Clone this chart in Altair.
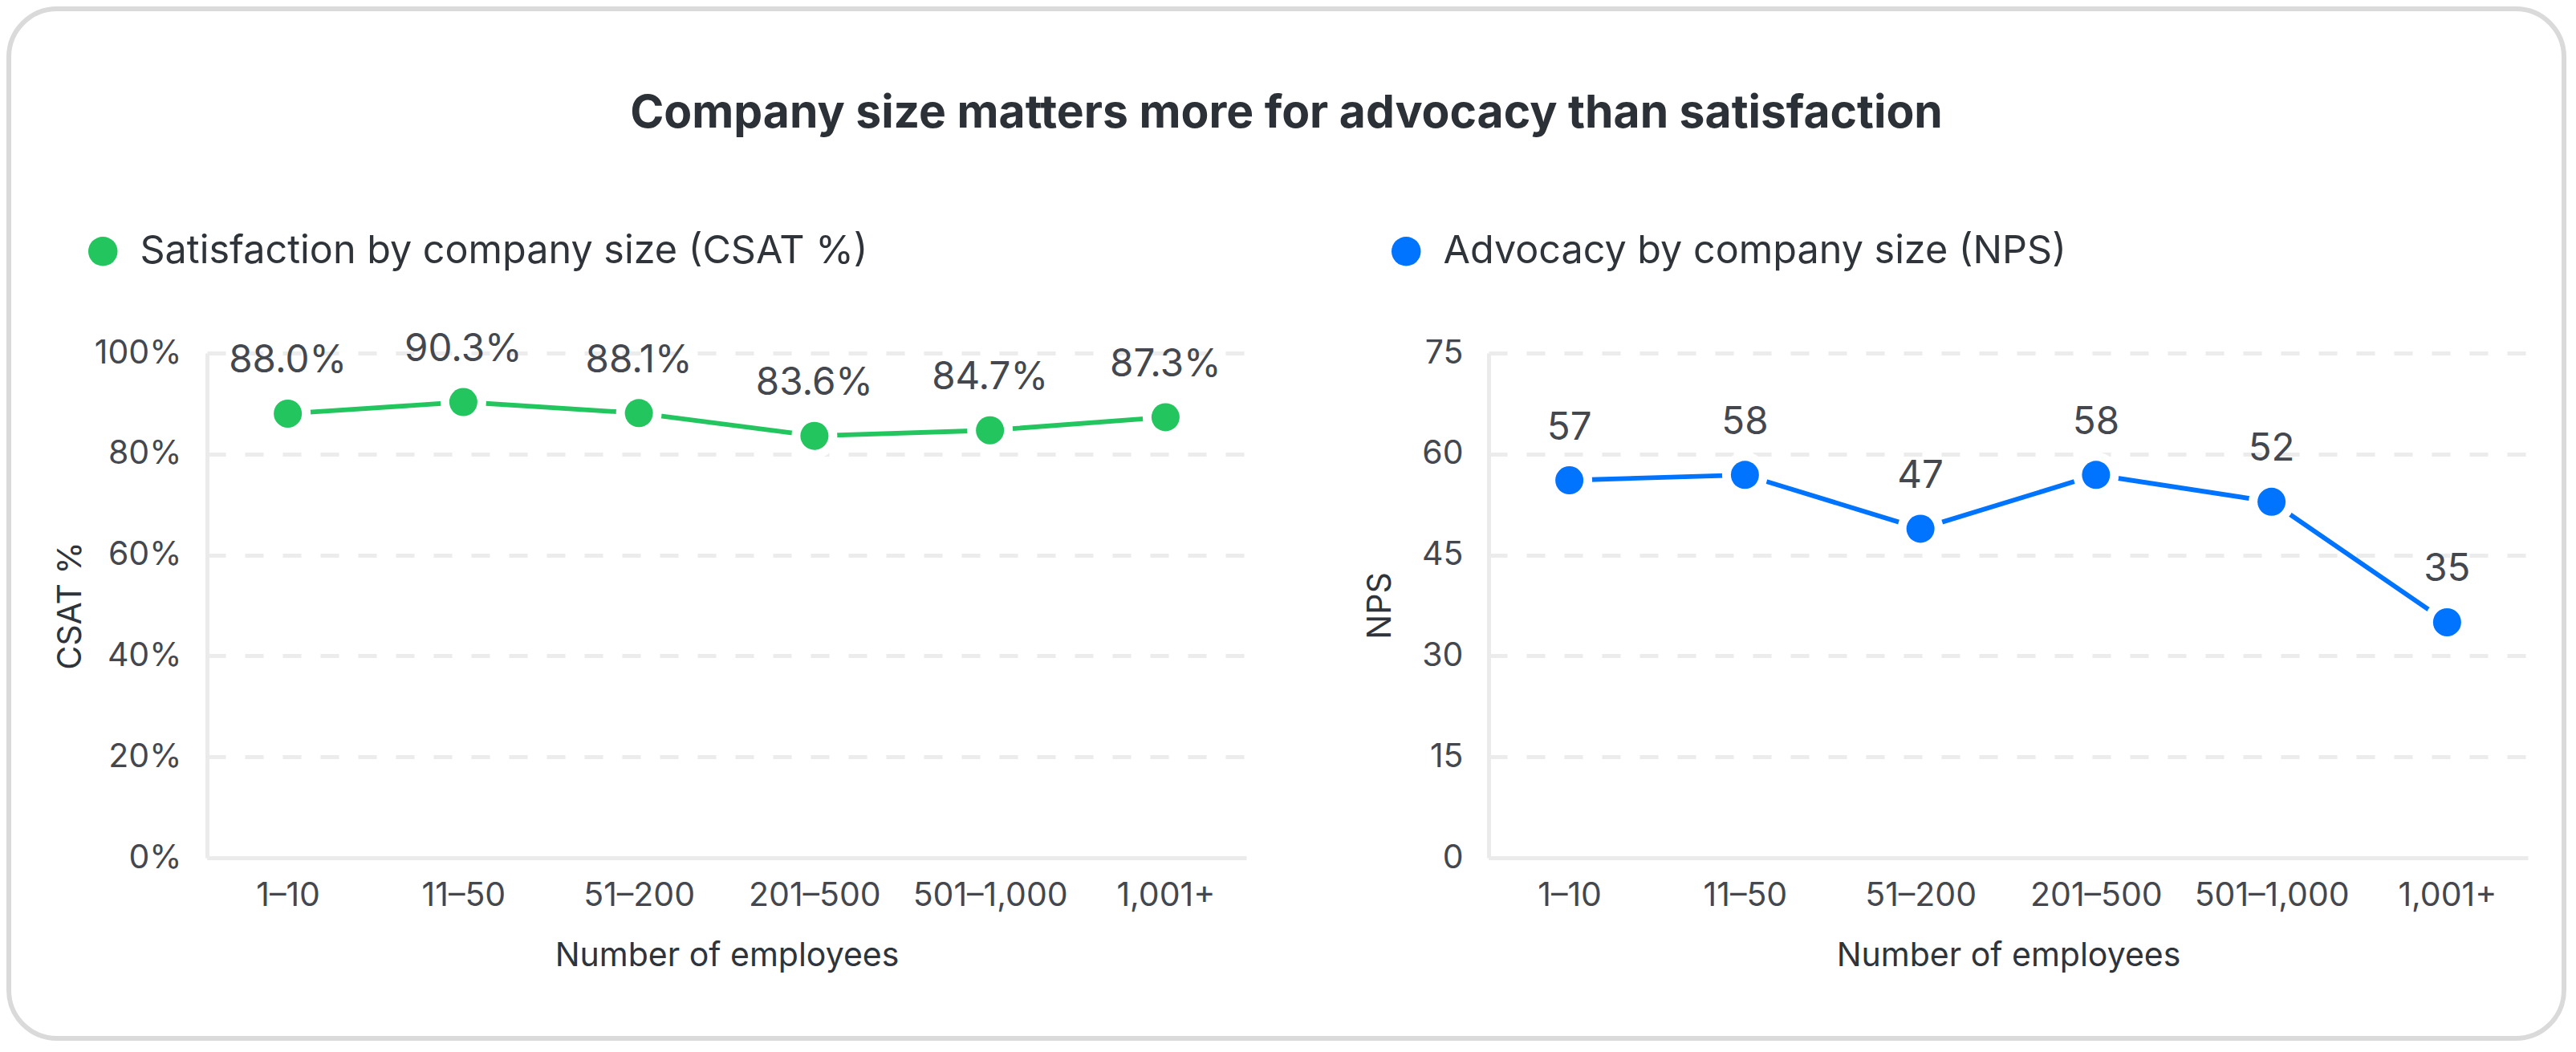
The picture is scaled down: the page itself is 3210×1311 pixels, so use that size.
import altair as alt
import pandas as pd

# ---- data ----
sizes = ["1–10", "11–50", "51–200", "201–500", "501–1,000", "1,001+"]
csat_values = [88.0, 90.3, 88.1, 83.6, 84.7, 87.3]
nps_values = [56.1, 56.9, 48.9, 56.9, 52.9, 35.0]      # plotted positions
nps_labels = ["57", "58", "47", "58", "52", "35"]       # printed labels
csat_ticks = [0, 20, 40, 60, 80, 100]
nps_ticks = [0, 15, 30, 45, 60, 75]

main_title = "Company size matters more for advocacy than satisfaction"
csat_series = "Satisfaction by company size (CSAT %)"
nps_series = "Advocacy by company size (NPS)"

GREEN = "#22c55e"
BLUE = "#0073ff"
TEXT = "#2e343a"
LABEL = "#44484e"
GRID = "#ececec"
FONT = "Inter"

csat_df = pd.DataFrame({
    "size": sizes,
    "value": csat_values,
    "label": [f"{v:.1f}%" for v in csat_values],
    "series": [csat_series] * len(sizes),
})
nps_df = pd.DataFrame({
    "size": sizes,
    "value": nps_values,
    "label": nps_labels,
    "series": [nps_series] * len(sizes),
})

PW, PH = 1295, 629


def panel(df, color, series, ticks, ylabel, label_expr, title_x, legend_x, card=False):
    x = alt.X(
        "size:N", sort=sizes,
        scale=alt.Scale(type="point", padding=0.46),
        axis=alt.Axis(
            title="Number of employees", labelAngle=0, ticks=False, tickSize=0,
            grid=False, domainColor="#ebebeb", domainWidth=5,
            labelFontSize=41, labelColor=LABEL, labelPadding=27, labelFont=FONT,
            labelLimit=600, labelOverlap=False,
            titleFontSize=41, titleColor=TEXT, titleFontWeight="normal",
            titleFont=FONT, titleY=134, titleBaseline="alphabetic",
        ),
    )
    y = alt.Y(
        "value:Q",
        scale=alt.Scale(domain=[ticks[0], ticks[-1]], nice=False, zero=True),
        axis=alt.Axis(
            title=ylabel, values=ticks, labelExpr=label_expr, ticks=False, tickSize=0,
            grid=True, gridColor=GRID, gridWidth=5, gridDash=[23, 24],
            domainColor="#ebebeb", domainWidth=5,
            labelFontSize=41, labelColor=LABEL, labelPadding=32, labelFont=FONT,
            titleFontSize=41, titleColor=TEXT, titleFontWeight="normal",
            titleFont=FONT, titleX=title_x, titleY=PH / 2, titleAngle=270,
            titleBaseline="middle", titleAlign="center",
        ),
    )
    base = alt.Chart(df).encode(x=x, y=y)
    line = base.mark_line(color=color, strokeWidth=5.8)
    # white ring around each dot opens a small gap in the line
    halo = base.mark_point(
        shape="circle", filled=True, fill="white", color="white",
        strokeWidth=0, size=3249, opacity=1, fillOpacity=1,
    )
    dots = base.mark_point(
        shape="circle", filled=True, size=1225, opacity=1, fillOpacity=1, strokeWidth=0,
    ).encode(
        color=alt.Color(
            "series:N",
            scale=alt.Scale(domain=[series], range=[color]),
            legend=alt.Legend(
                title=None, orient="none", legendX=legend_x, legendY=-151,
                symbolType="circle", symbolSize=1330, symbolStrokeWidth=0,
                labelFontSize=48.5, labelColor=TEXT, labelFont=FONT,
                labelOffset=22, padding=0, labelLimit=2000,
            ),
        )
    )
    text = base.mark_text(
        fontSize=47.5, font=FONT, color=LABEL, baseline="alphabetic", dy=-51
    ).encode(text="label:N")
    layers = [line, halo, dots, text]
    if card:
        # rounded card frame around the whole figure (decoration only)
        frame = alt.Chart(df.head(1)).mark_rect(
            cornerRadius=60, fillOpacity=0, stroke="#dadada", strokeWidth=6
        ).encode(
            x=alt.value(-247), x2=alt.value(2937),
            y=alt.value(-429), y2=alt.value(854),
        )
        layers = [frame] + layers
    return alt.layer(*layers).properties(width=PW, height=PH)


left = panel(csat_df, GREEN, csat_series, csat_ticks, "CSAT %",
             "datum.value + '%'", -170, -154, card=True)
right = panel(nps_df, BLUE, nps_series, nps_ticks, "NPS",
              "datum.label", -135, -127)

chart = alt.hconcat(
    left, right, spacing=302, bounds="flush",
    title=alt.TitleParams(
        text=main_title, fontSize=57, fontWeight=700, font=FONT, color="#2b3137",
        anchor="middle", frame="bounds", offset=-208, baseline="alphabetic",
    ),
).resolve_scale(color="independent").resolve_legend(color="independent").properties(
    padding=0, background="white"
).configure_view(strokeWidth=0)

chart.save("out.html", embed_options={"renderer": "svg", "actions": False})
